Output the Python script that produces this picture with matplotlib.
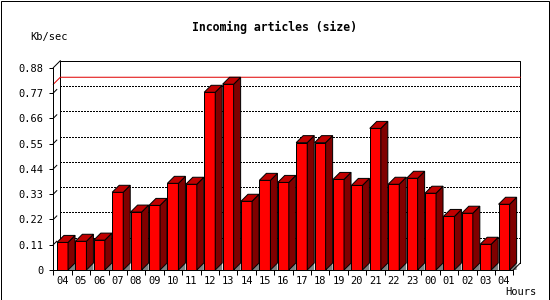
import matplotlib
matplotlib.use("Agg")
import matplotlib.pyplot as plt
from matplotlib.patches import Polygon, Rectangle

hours = ["04", "05", "06", "07", "08", "09", "10", "11", "12", "13", "14", "15", "16",
         "17", "18", "19", "20", "21", "22", "23", "00", "01", "02", "03", "04"]
kbsec = [0.120, 0.125, 0.130, 0.338, 0.252, 0.281, 0.377, 0.373, 0.773, 0.808, 0.299, 0.390, 0.381,
         0.554, 0.554, 0.394, 0.368, 0.616, 0.373, 0.399, 0.334, 0.233, 0.247, 0.112, 0.286]
yticks = [0, 0.11, 0.22, 0.33, 0.44, 0.55, 0.66, 0.77, 0.88]
ytick_labels = ["0", "0.11", "0.22", "0.33", "0.44", "0.55", "0.66", "0.77", "0.88"]

W, H = 550, 300
fig = plt.figure(figsize=(5.5, 3), dpi=100)
fig.patch.set_facecolor("white")

# front plot area in pixels
x0, x1, y0, y1 = 53.3, 513.3, 270, 67.7
ax = fig.add_axes([x0 / W, (H - y0) / H, (x1 - x0) / W, (y0 - y1) / H])
n = len(hours)
ymax = 0.88
ax.set_xlim(0, n)
ax.set_ylim(0, ymax)
ax.set_facecolor("none")

# 3d depth (7 px) in data units
DX = 7 / ((x1 - x0) / n)
DY = 7 / ((y0 - y1) / ymax)
lw = 0.72
mono = "DejaVu Sans Mono"

for s in ["top", "right"]:
    ax.spines[s].set_visible(False)
for s in ["left", "bottom"]:
    ax.spines[s].set_linewidth(lw)

# back wall frame
ax.plot([DX, DX, n + DX, n + DX], [DY, ymax + DY, ymax + DY, DY], color="black", lw=lw, clip_on=False, zorder=1)
ax.plot([0, DX], [ymax, ymax + DY], color="black", lw=lw, clip_on=False, zorder=1)
ax.plot([n, n + DX], [0, DY], color="black", lw=lw, clip_on=False, zorder=6)

# dotted grid on back wall
for t in yticks[1:-1]:
    ax.plot([DX, n + DX], [t + DY, t + DY], color="black", lw=lw, dashes=(2, 2),
            antialiased=False, clip_on=False, zorder=1)
    ax.plot([0, DX * 0.5], [t, t + DY * 0.5], color="black", lw=lw, clip_on=False, zorder=1)

# max line
m = max(kbsec)
ax.plot([0, DX, n + DX], [m, m + DY, m + DY], color="#e00000", lw=lw, clip_on=False, zorder=2)

# bars
bw = 0.6
for i, v in enumerate(kbsec):
    a = i + 0.5 - bw / 2
    b = i + 0.5 + bw / 2
    ax.add_patch(Polygon([(b, 0), (b + DX, DY), (b + DX, 0)], closed=True,
                         facecolor="#808080", edgecolor="none", zorder=3, clip_on=False))
    ax.bar(i + 0.5, v, width=bw, color="#ff0000", edgecolor="black", linewidth=lw, zorder=4)
    ax.add_patch(Polygon([(b, 0), (b, v), (b + DX, v + DY), (b + DX, DY)], closed=True,
                         facecolor="#800000", edgecolor="black", linewidth=lw, zorder=4, clip_on=False))
    ax.add_patch(Polygon([(a, v), (a + DX, v + DY), (b + DX, v + DY), (b, v)], closed=True,
                         facecolor="#c00000", edgecolor="black", linewidth=lw, zorder=4, clip_on=False))

ax.set_yticks(yticks)
ax.set_yticklabels(ytick_labels, fontfamily=mono, fontsize=7.5)
ax.set_xticks([i + 0.5 for i in range(n)])
ax.set_xticklabels(hours, fontfamily=mono, fontsize=7.5)
ax.set_xticks(range(n + 1), minor=True)
ax.tick_params(axis="x", which="major", length=0, pad=4)
ax.tick_params(axis="x", which="minor", length=3.5, width=lw)
ax.tick_params(axis="y", length=3, width=lw, pad=4)

fig.text(274 / W, 1 - 27 / H, "Incoming articles (size)", fontfamily=mono, fontweight="bold",
         fontsize=8.3, ha="center", va="center")
fig.text(30 / W, 1 - 37 / H, "Kb/sec", fontfamily=mono, fontsize=7.5, ha="left", va="center")
fig.text(505 / W, 1 - 292 / H, "Hours", fontfamily=mono, fontsize=7.5, ha="left", va="center")

fig.add_artist(Rectangle((0.5 / W, 0.5 / H), 1 - 1.5 / W, 1 - 1.5 / H, transform=fig.transFigure,
                         fill=False, edgecolor="black", linewidth=lw))

fig.savefig("out.png", dpi=100)
